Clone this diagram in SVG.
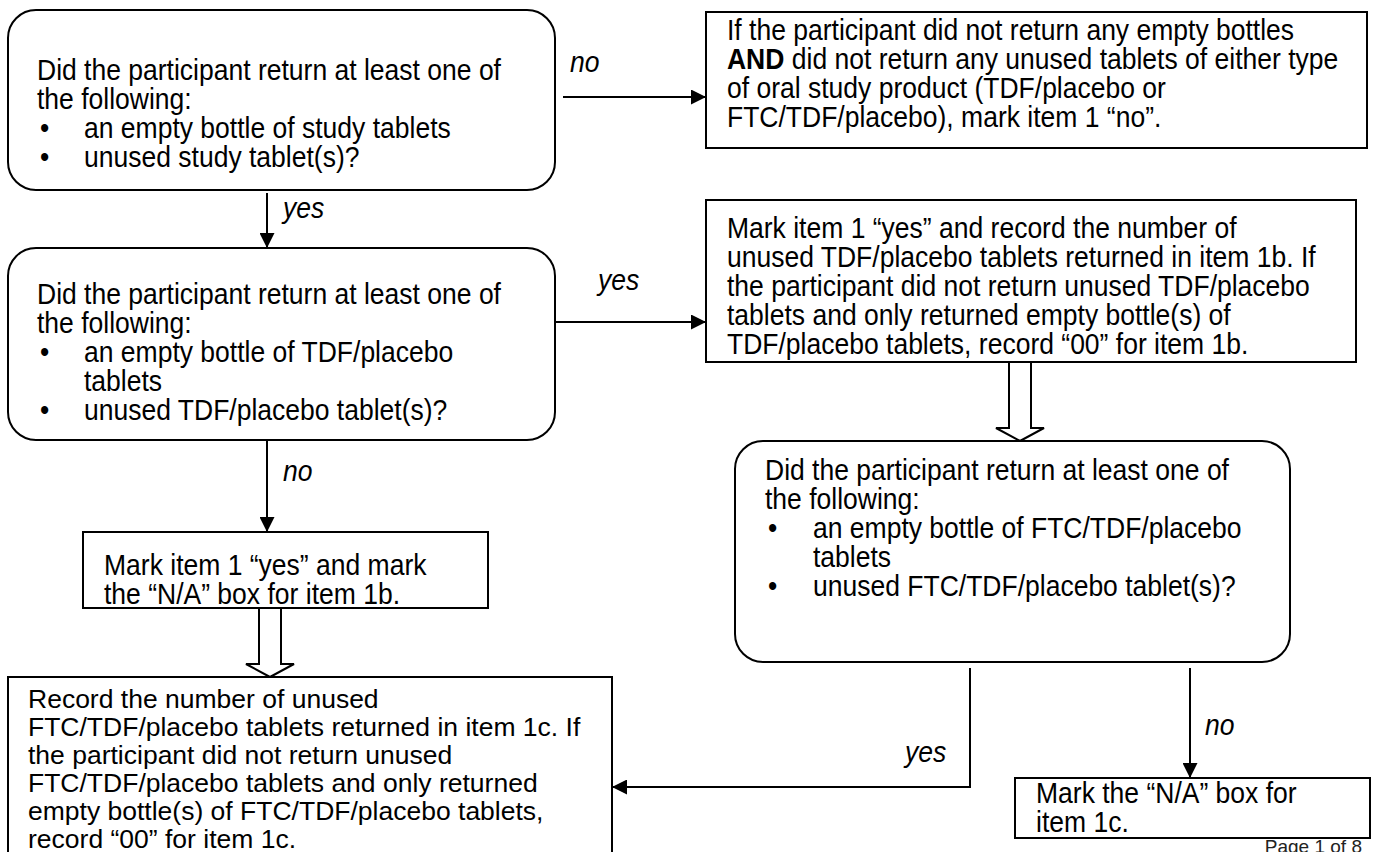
<svg xmlns="http://www.w3.org/2000/svg" width="1375" height="852" viewBox="0 0 1375 852">
<style>
.t{font-family:"Liberation Sans",Arial,sans-serif;font-size:26.5px;fill:#000}
.i{font-style:italic}
.b{font-weight:bold}
.box{fill:#fff;stroke:#000;stroke-width:2}
.ln{stroke:#000;stroke-width:2;fill:none}
.hol{fill:#fff;stroke:#000;stroke-width:2;stroke-linejoin:miter}
.pg{font-family:"Liberation Sans",Arial,sans-serif;font-size:19px;fill:#222}
</style>
<defs>
<marker id="ah" viewBox="0 0 10 10" refX="10" refY="5" markerWidth="15" markerHeight="15" markerUnits="userSpaceOnUse" orient="auto">
<path d="M0,0 L10,5 L0,10 z" fill="#000"/>
</marker>
</defs>
<g id="connectors">
<line class="ln" x1="563" y1="97" x2="706" y2="97" marker-end="url(#ah)"/>
<line class="ln" x1="267" y1="193" x2="267" y2="248" marker-end="url(#ah)"/>
<line class="ln" x1="555" y1="322" x2="706" y2="322" marker-end="url(#ah)"/>
<line class="ln" x1="267" y1="440" x2="267" y2="532" marker-end="url(#ah)"/>
<polygon class="hol" points="1009,362 1031,362 1031,428 1044,428 1020,441 996,428 1009,428"/>
<polygon class="hol" points="259,608 281,608 281,664 294,664 270,677 246,664 259,664"/>
<line class="ln" x1="1190" y1="668" x2="1190" y2="778" marker-end="url(#ah)"/>
<polyline class="ln" points="970,668 970,787 612,787" marker-end="url(#ah)"/>
<g transform="scale(1,1.08)">
<text class="t i" x="570" y="66.67">no</text>
<text class="t i" x="283" y="201.85">yes</text>
<text class="t i" x="598" y="268.52">yes</text>
<text class="t i" x="283" y="445.37">no</text>
<text class="t i" x="1205" y="680.56">no</text>
<text class="t i" x="905" y="705.56">yes</text>
</g>
</g>
<g id="q1">
<rect class="box" x="8" y="10" width="547" height="180" rx="28"/>
<text class="t" transform="scale(1,1.08)"><tspan x="37" y="74.07">Did the participant return at least one of</tspan><tspan x="37" y="100.93">the following:</tspan><tspan x="40" y="127.78">•</tspan><tspan x="84" y="127.78">an empty bottle of study tablets</tspan><tspan x="40" y="154.63">•</tspan><tspan x="84" y="154.63">unused study tablet(s)?</tspan></text>
</g>
<g id="r1">
<rect class="box" x="706" y="12" width="661" height="136"/>
<text class="t" transform="scale(1,1.08)"><tspan x="727" y="37.04">If the participant did not return any empty bottles</tspan><tspan x="727" y="63.89"><tspan class="b">AND</tspan> did not return any unused tablets of either type</tspan><tspan x="727" y="90.74">of oral study product (TDF/placebo or</tspan><tspan x="727" y="117.59">FTC/TDF/placebo), mark item 1 “no”.</tspan></text>
</g>
<g id="q2">
<rect class="box" x="8" y="248" width="547" height="192" rx="28"/>
<text class="t" transform="scale(1,1.08)"><tspan x="37" y="281.48">Did the participant return at least one of</tspan><tspan x="37" y="308.33">the following:</tspan><tspan x="40" y="335.19">•</tspan><tspan x="84" y="335.19">an empty bottle of TDF/placebo</tspan><tspan x="84" y="362.04">tablets</tspan><tspan x="40" y="388.89">•</tspan><tspan x="84" y="388.89">unused TDF/placebo tablet(s)?</tspan></text>
</g>
<g id="r2">
<rect class="box" x="706" y="200" width="650" height="162"/>
<text class="t" transform="scale(1,1.08)"><tspan x="727" y="220.37">Mark item 1 “yes” and record the number of</tspan><tspan x="727" y="247.22">unused TDF/placebo tablets returned in item 1b. If</tspan><tspan x="727" y="274.07">the participant did not return unused TDF/placebo</tspan><tspan x="727" y="300.93">tablets and only returned empty bottle(s) of</tspan><tspan x="727" y="327.78">TDF/placebo tablets, record “00” for item 1b.</tspan></text>
</g>
<g id="r3">
<rect class="box" x="83" y="532" width="405" height="76"/>
<text class="t" transform="scale(1,1.08)"><tspan x="104" y="532.41">Mark item 1 “yes” and mark</tspan><tspan x="104" y="559.26">the “N/A” box for item 1b.</tspan></text>
</g>
<g id="q3">
<rect class="box" x="735" y="441" width="555" height="221" rx="28"/>
<text class="t" transform="scale(1,1.08)"><tspan x="765" y="444.44">Did the participant return at least one of</tspan><tspan x="765" y="471.30">the following:</tspan><tspan x="768" y="498.15">•</tspan><tspan x="813" y="498.15">an empty bottle of FTC/TDF/placebo</tspan><tspan x="813" y="525.00">tablets</tspan><tspan x="768" y="551.85">•</tspan><tspan x="813" y="551.85">unused FTC/TDF/placebo tablet(s)?</tspan></text>
</g>
<g id="r4">
<rect class="box" x="8" y="677" width="604" height="190"/>
<text class="t"><tspan x="28" y="708">Record the number of unused</tspan><tspan x="28" y="736">FTC/TDF/placebo tablets returned in item 1c. If</tspan><tspan x="28" y="764">the participant did not return unused</tspan><tspan x="28" y="792">FTC/TDF/placebo tablets and only returned</tspan><tspan x="28" y="820">empty bottle(s) of FTC/TDF/placebo tablets,</tspan><tspan x="28" y="848">record “00” for item 1c.</tspan></text>
</g>
<g id="r5">
<rect class="box" x="1015" y="778" width="355" height="60"/>
<text class="t" transform="scale(1,1.08)"><tspan x="1036" y="743.52">Mark the “N/A” box for</tspan><tspan x="1036" y="770.37">item 1c.</tspan></text>
</g>
<text class="pg" x="1362" y="853" text-anchor="end">Page 1 of 8</text>
</svg>
